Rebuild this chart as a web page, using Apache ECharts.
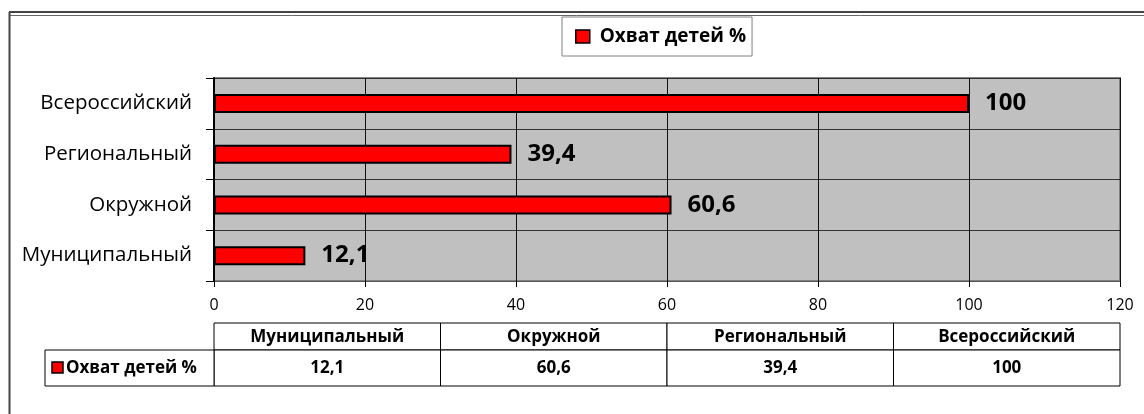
<!DOCTYPE html>
<html>
<head>
<meta charset="utf-8">
<script src="https://cdn.jsdelivr.net/npm/echarts@6/dist/echarts.min.js"></script>
<style>
  html, body { margin: 0; padding: 0; background: #fff; }
  #chart { width: 1144px; height: 414px; }
</style>
</head>
<body>
<div id="chart"></div>
<script>
// data, bottom to top on the chart (same order as the table columns)
const categories = ['Муниципальный', 'Окружной', 'Региональный', 'Всероссийский'];
const coverage = [12.1, 60.6, 39.4, 100];
const seriesName = 'Охват детей %';
const xTicks = [0, 20, 40, 60, 80, 100, 120];

const FONT = '"Open Sans", "Noto Sans", sans-serif';
const fmt = v => String(v).replace('.', ',');

// plot box
const gl = 214, gt = 78, gw = 906, gh = 203;

// data table under the chart
const colW = gw / categories.length;
const hTop = 323, vTop = 350, vBot = 386, rowLeft = 45;
const table = [];
categories.forEach((c, i) => {
  const x = gl + i * colW;
  table.push({ type: 'rect', shape: { x: x, y: hTop, width: colW, height: vTop - hTop },
    style: { fill: '#fff', stroke: '#000', lineWidth: 1 } });
  table.push({ type: 'rect', shape: { x: x, y: vTop, width: colW, height: vBot - vTop },
    style: { fill: '#fff', stroke: '#000', lineWidth: 1 } });
  table.push({ type: 'text', x: x + colW / 2, y: (hTop + vTop) / 2 + 1,
    style: { text: c, font: 'bold 17px ' + FONT, fill: '#000', align: 'center', verticalAlign: 'middle' } });
  table.push({ type: 'text', x: x + colW / 2, y: (vTop + vBot) / 2,
    style: { text: fmt(coverage[i]), font: 'bold 17px ' + FONT, fill: '#000', align: 'center', verticalAlign: 'middle' } });
});
table.push({ type: 'rect', shape: { x: rowLeft, y: vTop, width: gl - rowLeft, height: vBot - vTop },
  style: { fill: '#fff', stroke: '#000', lineWidth: 1 } });
table.push({ type: 'rect', shape: { x: 52, y: 362, width: 11, height: 11 },
  style: { fill: '#ff0000', stroke: '#000', lineWidth: 1.5 } });
table.push({ type: 'text', x: 66, y: (vTop + vBot) / 2,
  style: { text: seriesName, font: 'bold 17px ' + FONT, fill: '#000', align: 'left', verticalAlign: 'middle' } });

// outer frame (cut off at the right and bottom)
const frame = [
  { type: 'line', shape: { x1: 9, y1: 12, x2: 1144, y2: 12 }, style: { stroke: '#444', lineWidth: 2 } },
  { type: 'line', shape: { x1: 9, y1: 15.5, x2: 1144, y2: 15.5 }, style: { stroke: '#666', lineWidth: 1 } },
  { type: 'line', shape: { x1: 9.5, y1: 12, x2: 9.5, y2: 414 }, style: { stroke: '#444', lineWidth: 2 } }
];

const chart = echarts.init(document.getElementById('chart'), null, { renderer: 'canvas' });
chart.setOption({
  animation: false,
  backgroundColor: '#fff',
  textStyle: { fontFamily: FONT },
  legend: {
    left: 562, top: 17,
    padding: [10, 6, 10, 13],
    backgroundColor: '#fff',
    borderColor: '#808080',
    borderWidth: 1,
    borderRadius: 0,
    icon: 'rect',
    itemWidth: 14, itemHeight: 13,
    itemGap: 4,
    itemStyle: { borderColor: '#000', borderWidth: 1.5 },
    textStyle: { fontSize: 19, fontWeight: 'bold', color: '#000', fontFamily: FONT, padding: [0, 0, 0, 5] },
    data: [seriesName]
  },
  grid: {
    left: gl, top: gt, width: gw, height: gh,
    show: true,
    backgroundColor: '#c0c0c0',
    borderColor: '#808080',
    borderWidth: 2
  },
  xAxis: {
    type: 'value',
    min: xTicks[0], max: xTicks[xTicks.length - 1], interval: 20,
    axisLine: { show: true, lineStyle: { color: '#555', width: 1 } },
    axisTick: { show: true, length: 6, lineStyle: { color: '#000' } },
    axisLabel: { fontSize: 16, color: '#000', margin: 16, fontFamily: FONT },
    splitLine: { show: true, lineStyle: { color: '#111', width: 1 } }
  },
  yAxis: {
    type: 'category',
    data: categories,
    axisLine: { show: true, lineStyle: { color: '#000', width: 2 } },
    axisTick: { show: true, length: 8, lineStyle: { color: '#000' } },
    axisLabel: { fontSize: 20.5, color: '#000', margin: 22, fontFamily: FONT },
    splitLine: { show: true, lineStyle: { color: '#333', width: 1 } }
  },
  series: [{
    name: seriesName,
    type: 'bar',
    data: coverage,
    barWidth: 19,
    itemStyle: { color: '#ff0000', borderColor: '#000', borderWidth: 2 },
    label: {
      show: true,
      position: 'right',
      distance: 16,
      fontSize: 24,
      fontWeight: 'bold',
      color: '#000',
      fontFamily: FONT,
      formatter: p => fmt(p.value)
    }
  }],
  graphic: frame.concat(table)
});
</script>
</body>
</html>
